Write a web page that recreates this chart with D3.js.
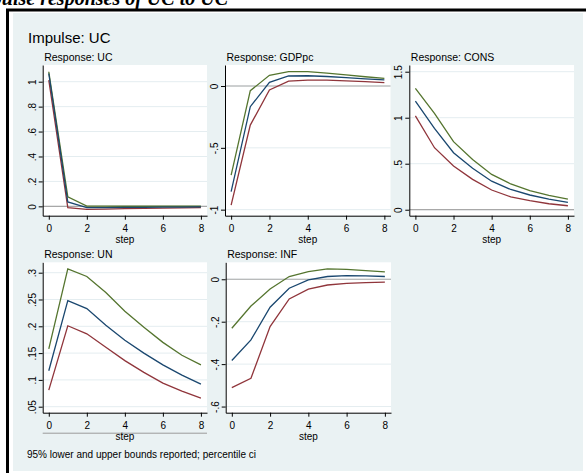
<!DOCTYPE html>
<html>
<head>
<meta charset="utf-8">
<script src="https://cdn.jsdelivr.net/npm/d3@7"></script>
<style>
  html, body { margin: 0; padding: 0; background: #ffffff; }
  svg { display: block; }
  text { font-family: "Liberation Sans", Arial, sans-serif; fill: #000; }
</style>
</head>
<body>
<svg id="chart" width="586" height="473"></svg>
<script>
// ---------- data ----------
const steps = [0, 1, 2, 3, 4, 5, 6, 7, 8];
const xTicks = [0, 2, 4, 6, 8];

// Response: UC
const ucIrf   = [1.066, 0.035, -0.010, -0.010, -0.009, -0.008, -0.007, -0.006, -0.005];
const ucLower = [1.013, -0.010, -0.025, -0.022, -0.019, -0.016, -0.014, -0.012, -0.010];
const ucUpper = [1.080, 0.077, 0.002, 0.002, 0.001, 0.001, 0.001, 0.001, 0.001];
const ucTicks = [0, 0.2, 0.4, 0.6, 0.8, 1];
const ucTickLabels = ["0", ".2", ".4", ".6", ".8", "1"];

// Response: GDPpc
const gdpIrf   = [-0.855, -0.167, 0.030, 0.081, 0.083, 0.077, 0.068, 0.058, 0.049];
const gdpLower = [-0.963, -0.316, -0.032, 0.040, 0.047, 0.047, 0.042, 0.036, 0.027];
const gdpUpper = [-0.720, -0.038, 0.087, 0.116, 0.116, 0.105, 0.090, 0.075, 0.062];
const gdpTicks = [-1, -0.5, 0];
const gdpTickLabels = ["-1", "-.5", "0"];

// Response: CONS
const consIrf   = [1.180, 0.884, 0.620, 0.450, 0.310, 0.220, 0.160, 0.115, 0.080];
const consLower = [1.020, 0.674, 0.475, 0.330, 0.214, 0.140, 0.098, 0.065, 0.043];
const consUpper = [1.320, 1.047, 0.740, 0.547, 0.384, 0.280, 0.207, 0.156, 0.116];
const consTicks = [0, 0.5, 1, 1.5];
const consTickLabels = ["0", ".5", "1", "1.5"];

// Response: UN
const unIrf   = [0.117, 0.248, 0.233, 0.202, 0.174, 0.150, 0.128, 0.109, 0.092];
const unLower = [0.081, 0.201, 0.186, 0.161, 0.136, 0.114, 0.094, 0.079, 0.066];
const unUpper = [0.158, 0.307, 0.293, 0.263, 0.228, 0.198, 0.170, 0.146, 0.128];
const unTicks = [0.05, 0.1, 0.15, 0.2, 0.25, 0.3];
const unTickLabels = [".05", ".1", ".15", ".2", ".25", ".3"];

// Response: INF
const infIrf   = [-0.383, -0.286, -0.132, -0.042, -0.003, 0.013, 0.017, 0.016, 0.013];
const infLower = [-0.511, -0.467, -0.223, -0.093, -0.047, -0.027, -0.019, -0.016, -0.013];
const infUpper = [-0.231, -0.126, -0.046, 0.013, 0.036, 0.049, 0.047, 0.041, 0.035];
const infTicks = [-0.6, -0.4, -0.2, 0];
const infTickLabels = ["-.6", "-.4", "-.2", "0"];

// ---------- layout / style ----------
const colIrf = "#1a476f", colLower = "#90353b", colUpper = "#55752f";
const bgCol = "#eaf2f3", gridCol = "#e4edf0", zeroCol = "#a8a8a8";

const panels = [
  { title: "Response: UC",    irf: ucIrf,   lo: ucLower,   hi: ucUpper,   ticks: ucTicks,   labels: ucTickLabels,
    box: [42.7, 207, 65, 215.7],    yDom: [-0.075, 1.134], zero: true },
  { title: "Response: GDPpc", irf: gdpIrf,  lo: gdpLower,  hi: gdpUpper,  ticks: gdpTicks,  labels: gdpTickLabels,
    box: [225, 390.5, 65, 215.7],   yDom: [-1.049, 0.17], zero: true },
  { title: "Response: CONS",  irf: consIrf, lo: consLower, hi: consUpper, ticks: consTicks, labels: consTickLabels,
    box: [409.3, 574, 65, 215.7],   yDom: [-0.065, 1.573], zero: true },
  { title: "Response: UN",    irf: unIrf,   lo: unLower,   hi: unUpper,   ticks: unTicks,   labels: unTickLabels,
    box: [42.7, 207, 262.3, 412.7], yDom: [0.0388, 0.3194], zero: false, underline: true },
  { title: "Response: INF",   irf: infIrf,  lo: infLower,  hi: infUpper,  ticks: infTicks,  labels: infTickLabels,
    box: [225.7, 391, 262.3, 412.7], yDom: [-0.629, 0.080], zero: true }
];

const svg = d3.select("#chart");

// top (cropped) title
svg.append("text")
  .attr("x", 228).attr("y", 5)
  .attr("text-anchor", "end")
  .style("font-family", "'Liberation Serif', 'Times New Roman', serif")
  .style("font-style", "italic").style("font-weight", "bold")
  .style("font-size", "20px")
  .text("Impulse responses of UC to UC");

// outer frame
svg.append("rect").attr("x", 7.5).attr("y", 10).attr("width", 600).attr("height", 500)
  .attr("fill", "#ffffff").attr("stroke", "#000").attr("stroke-width", 3);
svg.append("rect").attr("x", 13).attr("y", 13).attr("width", 570).attr("height", 458)
  .attr("fill", bgCol);

svg.append("text").attr("x", 28).attr("y", 43).style("font-size", "15px").text("Impulse: UC");

svg.append("text").attr("x", 27).attr("y", 458).style("font-size", "10px")
  .text("95% lower and upper bounds reported; percentile ci");

panels.forEach(p => {
  const [l, r, t, b] = p.box;
  const x = d3.scaleLinear().domain([-0.32, 8.32]).range([l, r]);
  const y = d3.scaleLinear().domain(p.yDom).range([b, t]);
  const g = svg.append("g");

  g.append("rect").attr("x", l).attr("y", t).attr("width", r - l).attr("height", b - t).attr("fill", "#fff");

  // grid
  g.selectAll("line.grid").data(p.ticks).join("line")
    .attr("x1", l).attr("x2", r)
    .attr("y1", d => y(d)).attr("y2", d => y(d))
    .attr("stroke", gridCol).attr("stroke-width", 1);

  if (p.zero) {
    g.append("line").attr("x1", l).attr("x2", r).attr("y1", y(0)).attr("y2", y(0))
      .attr("stroke", zeroCol).attr("stroke-width", 1.2);
  }

  const line = d3.line().x((d, i) => x(steps[i])).y(d => y(d));
  [[p.hi, colUpper], [p.lo, colLower], [p.irf, colIrf]].forEach(([vals, c]) => {
    g.append("path").datum(vals).attr("d", line)
      .attr("fill", "none").attr("stroke", c).attr("stroke-width", 1.3);
  });

  // y axis
  const ya = g.append("g").attr("transform", `translate(${l},0)`)
    .call(d3.axisLeft(y).tickValues(p.ticks).tickFormat((d, i) => p.labels[i]).tickSize(4).tickSizeOuter(0));
  ya.select(".domain").attr("stroke", "#000");
  ya.selectAll(".tick line").attr("stroke", "#000");
  ya.selectAll(".tick text")
    .attr("x", 0).attr("y", -7).attr("dy", 0)
    .attr("transform", "rotate(-90)")
    .attr("text-anchor", "middle")
    .style("font-size", "10px").style("font-family", "'Liberation Sans', Arial, sans-serif");

  // x axis
  const xa = g.append("g").attr("transform", `translate(0,${b})`)
    .call(d3.axisBottom(x).tickValues(xTicks).tickSize(4).tickSizeOuter(0).tickPadding(5));
  xa.select(".domain").attr("stroke", "#000");
  xa.selectAll(".tick line").attr("stroke", "#000");
  xa.selectAll(".tick text").style("font-size", "10px").style("font-family", "'Liberation Sans', Arial, sans-serif");

  if (p.underline) {
    g.append("line").attr("x1", l).attr("x2", r).attr("y1", b + 20.5).attr("y2", b + 20.5)
      .attr("stroke", "#9a9a9a").attr("stroke-width", 1);
  }

  g.append("text").attr("x", x(4)).attr("y", b + 27.5).attr("text-anchor", "middle")
    .style("font-size", "10px").text("step");

  g.append("text").attr("x", l + 1.5).attr("y", t - 4.5)
    .style("font-size", "10.5px").text(p.title);
});
</script>
</body>
</html>
